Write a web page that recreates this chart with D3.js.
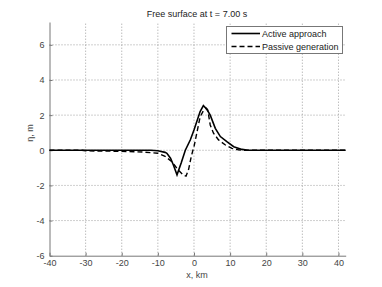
<!DOCTYPE html>
<html>
<head>
<meta charset="utf-8">
<script src="https://cdn.jsdelivr.net/npm/d3@7"></script>
<style>
  body { margin: 0; background: #fff; }
  text { font-family: "Liberation Sans", Arial, sans-serif; }
</style>
</head>
<body>
<script>
var W = 382, H = 287

// data
var x_ticks = [-40, -30, -20, -10, 0, 10, 20, 30, 40]
var y_ticks = [-6, -4, -2, 0, 2, 4, 6]

var active_x = [-40, -30, -20, -14, -12, -10, -8, -7.5, -6.5, -5.7, -4.7, -3.5, -2.4, -1, 0, 1.7, 2.6, 3.5, 4.5, 5.9, 7.3, 9.1, 11, 13.3, 15, 20, 30, 42]
var active_y = [0, 0, 0, 0, 0, -0.03, -0.12, -0.17, -0.45, -0.84, -1.4, -0.7, 0, 0.6, 1.15, 2.2, 2.54, 2.35, 2.0, 1.25, 0.78, 0.49, 0.2, 0.05, 0, 0, 0, 0]

var passive_x = [-40, -31, -30, -20, -14, -10, -8, -6.1, -5, -4, -3, -2.2, -1.5, -0.8, -0.3, 0, 1.7, 2.6, 3.4, 3.8, 4.5, 5.4, 6.8, 8.7, 10.5, 12.3, 14, 20, 30, 42]
var passive_y = [0, 0, -0.03, -0.06, -0.1, -0.17, -0.35, -0.65, -0.95, -1.2, -1.4, -1.47, -1.1, -0.4, 0, 0.2, 1.9, 2.25, 2.39, 2.3, 1.44, 0.97, 0.59, 0.3, 0.11, 0.03, 0, 0, 0, 0]

var series_names = ['Active approach', 'Passive generation']

var m = { left: 49.5, right: W - 345.7, top: 22, bottom: H - 255.7 }

var svg = d3.select('body').append('svg').attr('width', W).attr('height', H)

var x = d3.scaleLinear().domain([-40, 42]).range([m.left, W - m.right])
var y = d3.scaleLinear().domain([-6, 7.3]).range([H - m.bottom, m.top])

// grid
svg.append('g').selectAll('line').data(x_ticks.slice(1)).enter().append('line')
  .attr('x1', d => x(d)).attr('x2', d => x(d))
  .attr('y1', y(-6)).attr('y2', y(7.3))
  .attr('stroke', '#888').attr('stroke-width', 0.8).attr('stroke-dasharray', '1,2')
svg.append('g').selectAll('line').data(y_ticks.slice(1)).enter().append('line')
  .attr('x1', x(-40)).attr('x2', x(42))
  .attr('y1', d => y(d)).attr('y2', d => y(d))
  .attr('stroke', '#888').attr('stroke-width', 0.8).attr('stroke-dasharray', '1,2')

// axes
var xAxis = svg.append('g').attr('transform', 'translate(0,' + y(-6) + ')')
  .call(d3.axisBottom(x).tickValues(x_ticks).tickSize(-3).tickPadding(4).tickSizeOuter(0))
var yAxis = svg.append('g').attr('transform', 'translate(' + x(-40) + ',0)')
  .call(d3.axisLeft(y).tickValues(y_ticks).tickSize(-3).tickPadding(5).tickSizeOuter(0))
;[xAxis, yAxis].forEach(function (a) {
  a.select('.domain').attr('stroke', '#777')
  a.selectAll('.tick line').attr('stroke', '#777')
  a.selectAll('text').attr('fill', '#444').style('font-size', '9px')
})
xAxis.selectAll('text').text(d => d < 0 ? '-' + Math.abs(d) : d)
yAxis.selectAll('text').text(d => d < 0 ? '-' + Math.abs(d) : d)

// lines
var line = d3.line().x(d => x(d[0])).y(d => y(d[1]))
var active = active_x.map((v, i) => [v, active_y[i]])
var passive = passive_x.map((v, i) => [v, passive_y[i]])

svg.append('path').datum(active).attr('d', line)
  .attr('fill', 'none').attr('stroke', '#000').attr('stroke-width', 1.6)
svg.append('path').datum(passive).attr('d', line)
  .attr('fill', 'none').attr('stroke', '#000').attr('stroke-width', 1.4).attr('stroke-dasharray', '5,3')

// labels
svg.append('text').attr('x', 197).attr('y', 17).attr('text-anchor', 'middle')
  .style('font-size', '9px').attr('fill', '#222').text('Free surface at t = 7.00 s')
svg.append('text').attr('x', 197).attr('y', 278).attr('text-anchor', 'middle')
  .style('font-size', '9px').attr('fill', '#444').text('x, km')
svg.append('text').attr('transform', 'translate(33,133) rotate(-90)').attr('text-anchor', 'middle')
  .style('font-size', '9px').attr('fill', '#444').text('η, m')

// legend
var lg = svg.append('g')
lg.append('rect').attr('x', 226.5).attr('y', 26.5).attr('width', 116).attr('height', 27)
  .attr('fill', '#fff').attr('stroke', '#777')
series_names.forEach(function (name, i) {
  var yy = 33.5 + i * 13
  lg.append('line').attr('x1', 231.5).attr('x2', 260).attr('y1', yy).attr('y2', yy)
    .attr('stroke', '#000').attr('stroke-width', i ? 1.4 : 1.6)
    .attr('stroke-dasharray', i ? '5,3' : null)
  lg.append('text').attr('x', 262).attr('y', yy + 3.3).style('font-size', '9px')
    .attr('fill', '#222').text(name)
})
</script>
</body>
</html>
